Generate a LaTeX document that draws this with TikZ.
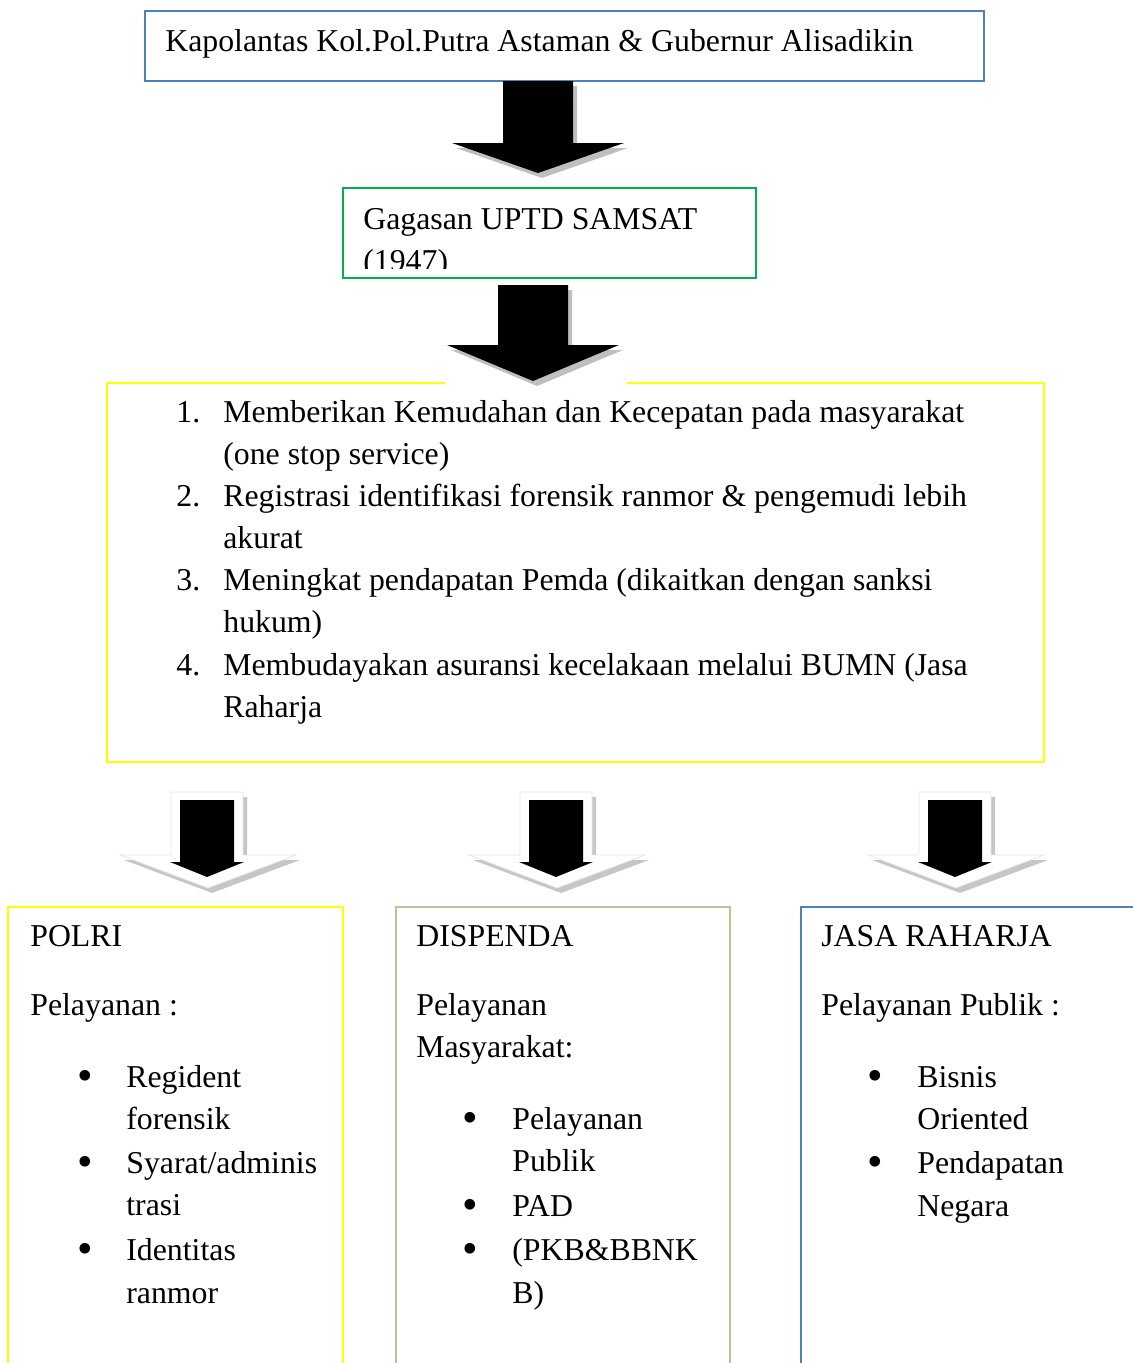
\documentclass[tikz,border=0pt]{standalone}
\usepackage{fontspec}
\usepackage{graphicx}
\setmainfont{Liberation Serif}
\usetikzlibrary{fit}

\definecolor{boxblue}{RGB}{79,129,189}
\definecolor{boxgreen}{RGB}{0,176,80}
\definecolor{boxyellow}{RGB}{255,255,0}
\definecolor{boxtan}{RGB}{196,189,151}
\newcommand{\bulletmark}{\raisebox{-2pt}{\scalebox{1.4}{•}}}

\begin{document}
\begin{tikzpicture}[x=0.02cm, y=-0.02cm]
  \useasboundingbox (0,0) rectangle (1133,1363);
  \clip (0,0) rectangle (1133,1363);
  % boxes
  \begin{scope}[every node/.style={inner sep=0pt, line width=1.1pt}]
    \node[draw=boxblue] (kapolantas) [fit={(145,11) (984,81)}] {};
    \node[draw=boxgreen] (gagasan) [fit={(343,188) (756,278)}] {};
    \node[draw=boxyellow] (tujuan) [fit={(107,383) (1044,762)}] {};
    \node[draw=boxyellow] (polri) [fit={(8,907) (343,1400)}] {};
    \node[draw=boxtan] (dispenda) [fit={(396,907) (730,1400)}] {};
    \node[draw=boxblue] (jasa) [fit={(801,907) (1150,1400)}] {};
  \end{scope}
  % big black arrows
  \fill[white] (445,284) rectangle (627,387);
  \foreach \cx/\ytop/\yhead/\ytip in {538/81/143/173, 533/285/345/381} {
    \fill[gray!50, shift={(4,5)}] (\cx-35,\ytop) -- (\cx+35,\ytop) -- (\cx+35,\yhead)
      -- (\cx+86,\yhead) -- (\cx,\ytip) -- (\cx-86,\yhead) -- (\cx-35,\yhead) -- cycle;
    \fill[black] (\cx-35,\ytop) -- (\cx+35,\ytop) -- (\cx+35,\yhead)
      -- (\cx+86,\yhead) -- (\cx,\ytip) -- (\cx-86,\yhead) -- (\cx-35,\yhead) -- cycle;
  }
  % small arrows
  \foreach \cx in {207,556,955} {
    \fill[gray!45, shift={(4,5)}] (\cx-36,792) -- (\cx+36,792) -- (\cx+36,855)
      -- (\cx+89,855) -- (\cx+1,888) -- (\cx-87,855) -- (\cx-36,855) -- cycle;
    \filldraw[fill=white, draw=gray!20] (\cx-36,792) -- (\cx+36,792) -- (\cx+36,855)
      -- (\cx+89,855) -- (\cx+1,888) -- (\cx-87,855) -- (\cx-36,855) -- cycle;
    \fill[black] (\cx-27,800) -- (\cx+27,800) -- (\cx+27,862)
      -- (\cx+37,862) -- (\cx,877) -- (\cx-37,862) -- (\cx-27,862) -- cycle;
  }
  % texts
  \begin{scope}[every node/.style={anchor=base west, inner sep=0pt,
      font=\fontsize{18.1pt}{24pt}\selectfont}]
    \node (k1) at (165,51) {Kapolantas Kol.Pol.Putra Astaman \& Gubernur Alisadikin};
    \node (g1) at (363,229) {Gagasan UPTD SAMSAT};
    \begin{scope}
      \clip (343,188) rectangle (756,268);
      \node (g2) at (363,271) {(1947)};
    \end{scope}
    \node (n1) at (176,422) {1.};
    \node (n2) at (176,506) {2.};
    \node (n3) at (176,590) {3.};
    \node (n4) at (176,675) {4.};
    \node (i1) at (223,422) {Memberikan Kemudahan dan Kecepatan pada masyarakat};
    \node (i1b) at (223,464) {(one stop service)};
    \node (i2) at (223,506) {Registrasi identifikasi forensik ranmor \& pengemudi lebih};
    \node (i2b) at (223,548) {akurat};
    \node (i3) at (223,590) {Meningkat pendapatan Pemda (dikaitkan dengan sanksi};
    \node (i3b) at (223,632) {hukum)};
    \node (i4) at (223,675) {Membudayakan asuransi kecelakaan melalui BUMN (Jasa};
    \node (i4b) at (223,717) {Raharja};
    % POLRI
    \node (p0) at (30,946) {POLRI};
    \node (p1) at (30,1015) {Pelayanan :};
    \node (pb1) at (77,1087) {\bulletmark};
    \node (pb2) at (77,1173) {\bulletmark};
    \node (pb3) at (77,1260) {\bulletmark};
    \node (p2) at (126,1087) {Regident};
    \node (p3) at (126,1129) {forensik};
    \node (p4) at (126,1173) {Syarat/adminis};
    \node (p5) at (126,1215) {trasi};
    \node (p6) at (126,1260) {Identitas};
    \node (p7) at (126,1303) {ranmor};
    % DISPENDA
    \node (d0) at (416,946) {DISPENDA};
    \node (d1) at (416,1015) {Pelayanan};
    \node (d2) at (416,1057) {Masyarakat:};
    \node (db1) at (462,1129) {\bulletmark};
    \node (db2) at (462,1216) {\bulletmark};
    \node (db3) at (462,1260) {\bulletmark};
    \node (d3) at (512,1129) {Pelayanan};
    \node (d4) at (512,1171) {Publik};
    \node (d5) at (512,1216) {PAD};
    \node (d6) at (512,1260) {(PKB\&BBNK};
    \node (d7) at (512,1303) {B)};
    % JASA RAHARJA
    \node (j0) at (821,946) {JASA RAHARJA};
    \node (j1) at (821,1015) {Pelayanan Publik :};
    \node (jb1) at (867,1087) {\bulletmark};
    \node (jb2) at (867,1173) {\bulletmark};
    \node (j2) at (917,1087) {Bisnis};
    \node (j3) at (917,1129) {Oriented};
    \node (j4) at (917,1173) {Pendapatan};
    \node (j5) at (917,1216) {Negara};
  \end{scope}
\end{tikzpicture}
\end{document}
